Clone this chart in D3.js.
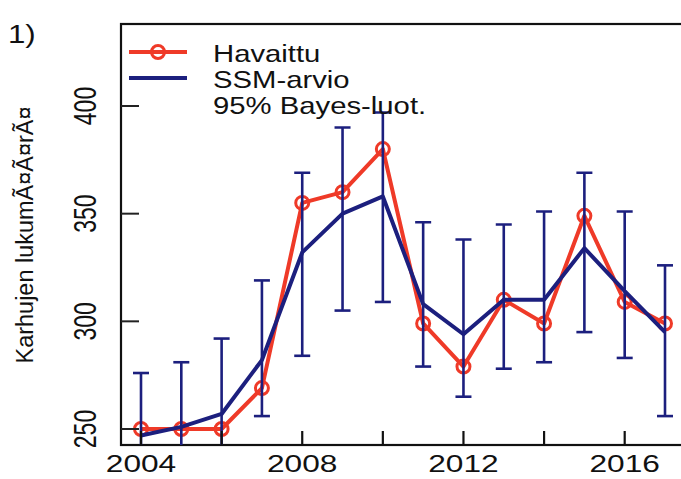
<!DOCTYPE html>
<html><head><meta charset="utf-8">
<script src="https://cdn.jsdelivr.net/npm/d3@7"></script>
<style>html,body{margin:0;padding:0;background:#fff;}svg{display:block;}</style>
</head><body>
<script>
const years    = [2004,2005,2006,2007,2008,2009,2010,2011,2012,2013,2014,2015,2016,2017];
const observed = [250,250,250,269,355,360,380,299,279,310,299,349,309,299];
const ssm      = [247,251,257,282,332,350,358,308,294,310,310,334,314,295];
const lower95  = [222,225,232,256,284,305,309,279,265,278,281,295,283,256];
const upper95  = [276,281,292,319,369,390,397,346,338,345,351,369,351,326];
const yTicks = [250,300,350,400];
const xTicks = [2004,2006,2008,2010,2012,2014,2016];
const xLabels = [2004,2008,2012,2016];
const legendLabels = ["Havaittu","SSM-arvio","95% Bayes-luot."];
const yTitle = "Karhujen lukumÃ¤Ã¤rÃ¤";
const panelLabel = "1)";

const W=681,H=479;
const RED="#ef3a28", BLUE="#1c1f7e";
const svg=d3.select("body").append("svg").attr("width",W).attr("height",H);
const L=121,T=24,B=445;
const x=d3.scaleLinear().domain([2004,2017]).range([141,665]);
const y=d3.scaleLinear().domain([250,400]).range([429,106]);
const R=x(2019.5);

svg.append("defs").append("clipPath").attr("id","clip")
  .append("rect").attr("x",L).attr("y",T).attr("width",R-L).attr("height",B-T);

const font="Liberation Sans, Arial, sans-serif";
function stext(px,py,sx,txt,size,anchor,rot){
  const g=svg.append("g").attr("transform",`translate(${px},${py}) scale(${sx},1)`);
  const t=g.append("text").text(txt).attr("font-family",font).attr("font-size",size)
    .attr("text-anchor",anchor||"start").attr("fill","#111");
  if(rot){t.attr("transform","rotate(-90)");}
  return t;
}

// box
svg.append("rect").attr("x",L).attr("y",T).attr("width",R-L).attr("height",B-T)
  .attr("fill","none").attr("stroke","#111").attr("stroke-width",2.2);

// ticks (inward)
const plot=svg.append("g").attr("clip-path","url(#clip)");
yTicks.forEach(v=>{
  svg.append("line").attr("x1",L).attr("x2",L+18).attr("y1",y(v)).attr("y2",y(v))
    .attr("stroke","#222").attr("stroke-width",2);
});
xTicks.forEach(v=>{
  svg.append("line").attr("x1",x(v)).attr("x2",x(v)).attr("y1",B).attr("y2",B-14)
    .attr("stroke","#111").attr("stroke-width",2.2);
});

// tick labels
yTicks.forEach(v=>{ stext(85,y(v),1.35,String(v),23,"middle",true).attr("y",8); });
xLabels.forEach(v=>{ stext(x(v),472,1.32,String(v),24,"middle"); });

// axis title & panel label
stext(25,235,1.1,yTitle,21,"middle",true).attr("y",7).attr("textLength",257).attr("lengthAdjust","spacingAndGlyphs");
stext(8,43,1.2,panelLabel,26,"start");

const data=years.map((yr,i)=>({yr,o:observed[i],s:ssm[i],lo:lower95[i],hi:upper95[i]}));

// observed
plot.append("path").datum(data).attr("fill","none").attr("stroke",RED).attr("stroke-width",4)
  .attr("stroke-linejoin","round").attr("d",d3.line().x(d=>x(d.yr)).y(d=>y(d.o)));
plot.selectAll("circle.o").data(data).join("circle").attr("class","o")
  .attr("cx",d=>x(d.yr)).attr("cy",d=>y(d.o)).attr("r",6.5)
  .attr("fill","none").attr("stroke",RED).attr("stroke-width",3);

// SSM
plot.append("path").datum(data).attr("fill","none").attr("stroke",BLUE).attr("stroke-width",4)
  .attr("stroke-linejoin","round").attr("d",d3.line().x(d=>x(d.yr)).y(d=>y(d.s)));

// error bars
const eb=plot.selectAll("g.eb").data(data).join("g").attr("class","eb");
eb.append("line").attr("x1",d=>x(d.yr)).attr("x2",d=>x(d.yr)).attr("y1",d=>y(d.lo)).attr("y2",d=>y(d.hi))
  .attr("stroke",BLUE).attr("stroke-width",2.6);
eb.append("line").attr("x1",d=>x(d.yr)-8).attr("x2",d=>x(d.yr)+8).attr("y1",d=>y(d.lo)).attr("y2",d=>y(d.lo))
  .attr("stroke",BLUE).attr("stroke-width",2.6);
eb.append("line").attr("x1",d=>x(d.yr)-8).attr("x2",d=>x(d.yr)+8).attr("y1",d=>y(d.hi)).attr("y2",d=>y(d.hi))
  .attr("stroke",BLUE).attr("stroke-width",2.6);

// legend
svg.append("line").attr("x1",129).attr("x2",187).attr("y1",52).attr("y2",52).attr("stroke",RED).attr("stroke-width",4);
svg.append("circle").attr("cx",158).attr("cy",52).attr("r",6.5).attr("fill","none").attr("stroke",RED).attr("stroke-width",3);
svg.append("line").attr("x1",129).attr("x2",187).attr("y1",78).attr("y2",78).attr("stroke",BLUE).attr("stroke-width",4);
[62,88,114].forEach((by,i)=>{ stext(213,by,1.22,legendLabels[i],24,"start"); });
</script>
</body></html>
